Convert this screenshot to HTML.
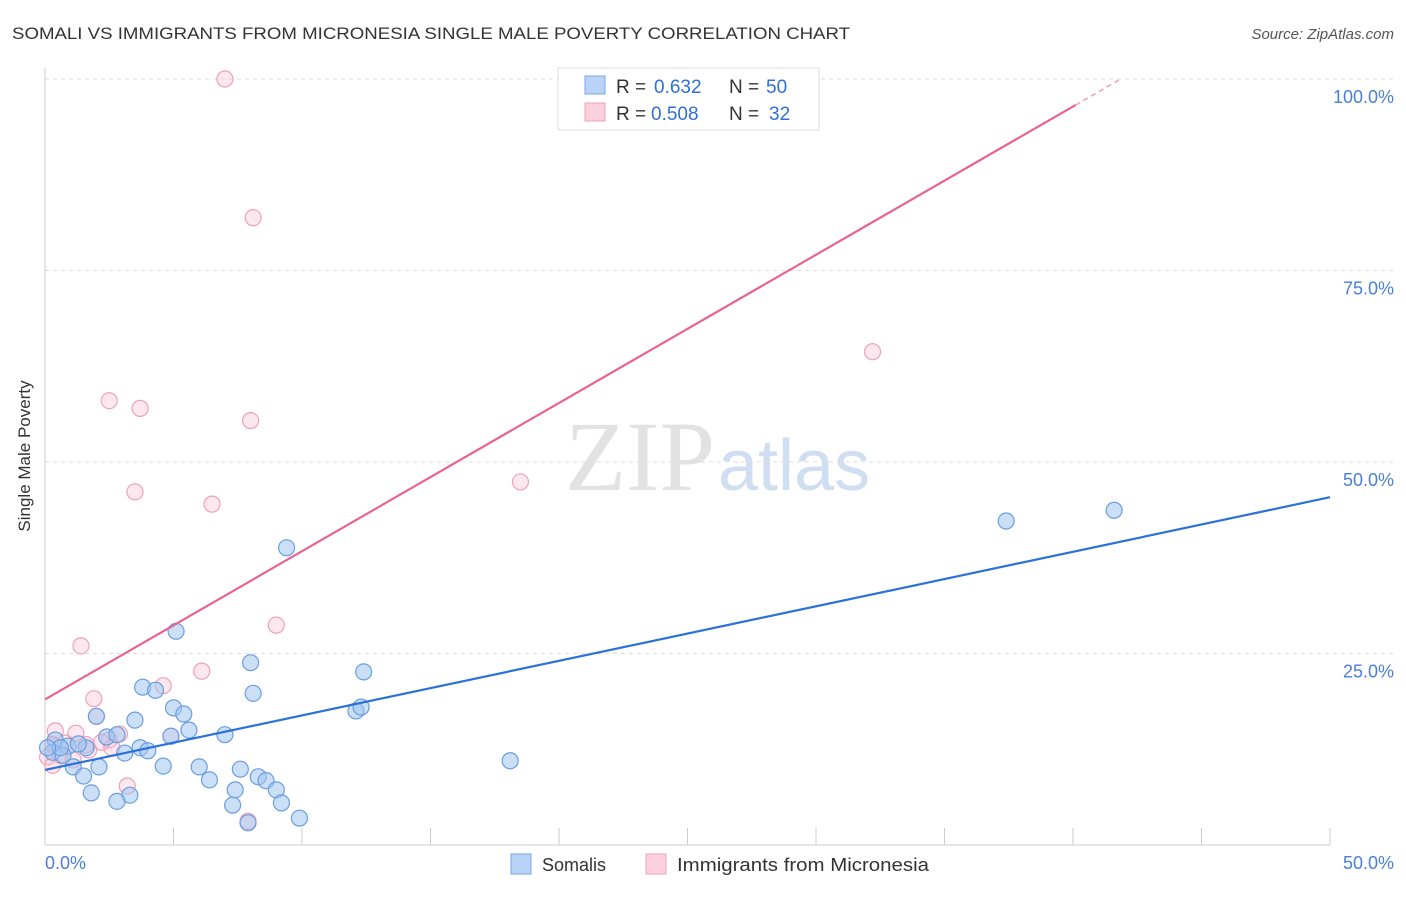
<!DOCTYPE html>
<html><head><meta charset="utf-8"><style>
body{margin:0;background:#fff;font-family:"Liberation Sans",sans-serif}
</style></head><body>
<svg width="1406" height="892" xmlns="http://www.w3.org/2000/svg">
<text x="12" y="39" font-size="17" fill="#333" textLength="838" lengthAdjust="spacingAndGlyphs">SOMALI VS IMMIGRANTS FROM MICRONESIA SINGLE MALE POVERTY CORRELATION CHART</text>
<text x="1394" y="39" font-size="15" fill="#555" font-style="italic" text-anchor="end">Source: ZipAtlas.com</text>
<text x="715" y="490" font-size="100" fill="#e2e2e2" font-family="Liberation Serif,serif" text-anchor="end">ZIP</text>
<text x="718" y="490" font-size="72" fill="#d0def2">atlas</text>
<g id="grid"></g>
<line x1="45" y1="68" x2="45" y2="845" stroke="#ccc"/>
<line x1="45" y1="845" x2="1330" y2="845" stroke="#ccc"/>
<text x="30" y="456" font-size="17" fill="#333" text-anchor="middle" transform="rotate(-90 30 456)">Single Male Poverty</text>
<text x="45" y="869" font-size="18" fill="#4a7fd8">0.0%</text>
<text x="1394" y="869" font-size="18" fill="#4a7fd8" text-anchor="end">50.0%</text>
<g id="marks"></g>
<g>
<rect x="558" y="68" width="261" height="62" fill="#fff" stroke="#ddd"/>
<rect x="585" y="76" width="20" height="18" fill="#b8d3f5" stroke="#7aa7e2"/>
<rect x="585" y="103" width="20" height="18" fill="#fcd0dc" stroke="#f0a0b8"/>
<text x="616" y="93" font-size="19" fill="#333">R =</text>
<text x="654" y="93" font-size="19" fill="#2f6fd6">0.632</text>
<text x="729" y="93" font-size="19" fill="#333">N =</text>
<text x="766" y="93" font-size="19" fill="#2f6fd6">50</text>
<text x="616" y="120" font-size="19" fill="#333">R =</text>
<text x="651" y="120" font-size="19" fill="#2f6fd6">0.508</text>
<text x="729" y="120" font-size="19" fill="#333">N =</text>
<text x="769" y="120" font-size="19" fill="#2f6fd6">32</text>
</g>
<g>
<rect x="511" y="854" width="20" height="20" fill="#b8d3f5" stroke="#7aa7e2"/>
<text x="542" y="871" font-size="18" fill="#333">Somalis</text>
<rect x="646" y="854" width="20" height="20" fill="#fcd0dc" stroke="#f0a0b8"/>
<text x="677" y="871" font-size="18" fill="#333" textLength="252" lengthAdjust="spacingAndGlyphs">Immigrants from Micronesia</text>
</g>
</svg>
<script>
const yTicks=[25,50,75,100];
const yTickLabels=["25.0%","50.0%","75.0%","100.0%"];
const xTicks=[0,5,10,15,20,25,30,35,40,45,50];
const blueX=[37.4,41.6,9.4,5.1,8.0,12.4,3.8,4.3,8.1,5.0,5.4,12.1,12.3,2.0,3.5,5.6,7.0,4.9,2.4,2.8,0.4,0.9,1.6,3.7,4.0,3.1,0.3,0.7,18.1,4.6,2.1,1.1,6.0,7.6,1.5,8.3,8.6,6.4,9.0,7.4,1.8,3.3,2.8,9.2,7.3,9.9,7.9,0.6,0.1,1.3];
const blueY=[42.3,43.7,38.8,27.9,23.8,22.6,20.6,20.2,19.8,17.9,17.1,17.5,18.0,16.8,16.3,15.0,14.4,14.2,14.1,14.4,13.7,12.9,12.7,12.7,12.3,12.0,12.1,11.7,11.0,10.3,10.2,10.2,10.2,9.9,9.0,8.9,8.4,8.5,7.2,7.2,6.8,6.5,5.7,5.5,5.2,3.5,2.9,12.7,12.7,13.2];
const pinkX=[7.0,8.1,32.2,2.5,3.7,8.0,18.5,3.5,6.5,9.0,1.4,6.1,4.6,1.9,2.0,0.4,1.2,2.9,4.9,2.5,0.8,1.7,0.3,0.1,0.3,3.2,7.9,2.2,0.6,1.6,2.6,1.1];
const pinkY=[100,81.9,64.4,58.0,57.0,55.4,47.4,46.1,44.5,28.7,26.0,22.7,20.8,19.1,16.8,14.9,14.6,14.5,14.2,13.7,13.3,12.4,13.1,11.5,10.4,7.7,3.1,13.4,11.7,13.1,12.7,11.1];
const blueLine=[9.8,45.4];
const pinkLine=[19.0,96.6,40.1];
const NS="http://www.w3.org/2000/svg";
const sx=v=>45+v*25.7, sy=v=>845-v*7.66;
function mk(t,a,p){const e=document.createElementNS(NS,t);for(const k in a)e.setAttribute(k,a[k]);p.appendChild(e);return e;}
const grid=document.getElementById('grid'), marks=document.getElementById('marks');
yTicks.forEach((v,i)=>{
 const l=mk('line',{x1:45,x2:1394,y1:sy(v),y2:sy(v),stroke:'#ddd','stroke-dasharray':'4,4'},grid);
 
 
 const t=mk('text',{x:1394,y:sy(v)+24,'font-size':18,fill:'#4a7fd8','text-anchor':'end'},grid);
 t.textContent=yTickLabels[i];
 
 
});
xTicks.forEach(v=>{
 const l=mk('line',{x1:sx(v),x2:sx(v),y1:828,y2:845,stroke:'#ccc'},grid);
 
 
});
pinkX.forEach((x,i)=>{
 const c=mk('circle',{cx:sx(x),cy:sy(pinkY[i]),r:8,fill:'rgba(248,190,210,0.35)',stroke:'#f0a0b8','stroke-width':1.2},marks);
 
 
});
blueX.forEach((x,i)=>{
 const c=mk('circle',{cx:sx(x),cy:sy(blueY[i]),r:8,fill:'rgba(160,196,240,0.55)',stroke:'#6a9ee0','stroke-width':1.2},marks);
 
 
});
const bl=mk('line',{x1:sx(0),y1:sy(blueLine[0]),x2:sx(50),y2:sy(blueLine[1]),stroke:'#2a72d8','stroke-width':2.2},marks);


const pl=mk('line',{x1:sx(0),y1:sy(pinkLine[0]),x2:sx(pinkLine[2]),y2:sy(pinkLine[1]),stroke:'#e8648e','stroke-width':2.2},marks);


const slope=(pinkLine[1]-pinkLine[0])/pinkLine[2];
const xe=(100-pinkLine[0])/slope;
const pd=mk('line',{x1:sx(pinkLine[2]),y1:sy(pinkLine[1]),x2:sx(xe),y2:sy(100),stroke:'#f0a0b8','stroke-width':1.5,'stroke-dasharray':'5,4'},marks);


</script>
</body></html>
